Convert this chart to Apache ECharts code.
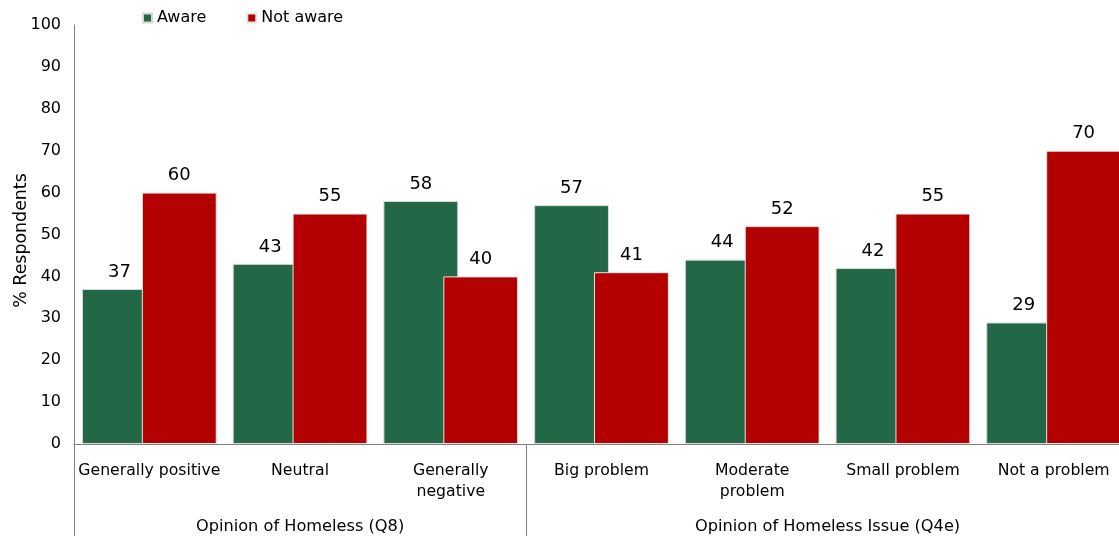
<!DOCTYPE html>
<html>
<head>
<meta charset="utf-8">
<script src="https://cdn.jsdelivr.net/npm/echarts@6/dist/echarts.min.js"></script>
<style>
  html, body { margin: 0; padding: 0; background: #fff; }
  #chart { width: 1119px; height: 536px; }
</style>
</head>
<body>
<div id="chart"></div>
<script>
// Awareness by opinion of homeless people and of the homeless issue
const categories = [
  'Generally positive', 'Neutral', 'Generally\nnegative',
  'Big problem', 'Moderate\nproblem', 'Small problem', 'Not a problem'
];
const aware    = [37, 43, 58, 57, 44, 42, 29];
const notAware = [60, 55, 40, 41, 52, 55, 70];
const seriesNames = ['Aware', 'Not aware'];
const yTicks = [0, 10, 20, 30, 40, 50, 60, 70, 80, 90, 100];

// Question groups spanning the categories: [title, number of categories]
const groups = [
  ['Opinion of Homeless (Q8)', 3],
  ['Opinion of Homeless Issue (Q4e)', 4]
];

// Group axis in half-category steps: boundaries get a tick, centres get the title
const halfSteps = categories.length * 2 + 1;
const groupAxisData = new Array(halfSteps).fill('');
const boundaryIdx = new Set([0]);
let start = 0;
groups.forEach(([title, span]) => {
  groupAxisData[start + span] = title;       // centre of group, in half steps
  start += span * 2;
  boundaryIdx.add(start);
});

const FONT = 'DejaVu Sans';
const GREEN = '#236846';
const RED = '#b30000';

const chart = echarts.init(document.getElementById('chart'));
chart.setOption({
  animation: false,
  textStyle: { fontFamily: FONT },
  legend: {
    data: seriesNames,
    left: 142, top: 10, padding: 0,
    itemWidth: 9, itemHeight: 9, itemGap: 40,
    icon: 'rect',
    textStyle: { fontSize: 16, color: '#000', fontFamily: FONT }
  },
  grid: {
    left: 74, right: -10, top: 25, bottom: 92,
    containLabel: false, outerBoundsMode: 'none'
  },
  xAxis: [
    {
      type: 'category',
      data: categories,
      axisLine: { show: true, lineStyle: { color: '#808080', width: 1 } },
      axisTick: { show: false },
      axisLabel: {
        interval: 0, margin: 16, color: '#000', fontSize: 15.7,
        lineHeight: 21, fontFamily: FONT
      }
    },
    {
      type: 'category',
      position: 'bottom',
      boundaryGap: false,
      data: groupAxisData,
      axisLine: { show: false },
      axisTick: {
        show: true, length: 92,
        interval: (i) => boundaryIdx.has(i),
        lineStyle: { color: '#808080', width: 1 }
      },
      axisLabel: {
        interval: 0, margin: 75, color: '#000', fontSize: 16.2, fontFamily: FONT
      }
    }
  ],
  yAxis: {
    type: 'value',
    min: yTicks[0], max: yTicks[yTicks.length - 1], interval: 10,
    name: '% Respondents',
    nameLocation: 'middle', nameGap: 44, nameRotate: 90, nameMoveOverlap: false,
    nameTextStyle: { fontSize: 17.4, color: '#000', fontFamily: FONT, padding: [0, 12, 0, 0] },
    axisLine: { show: true, lineStyle: { color: '#808080', width: 1 } },
    axisTick: { show: false },
    splitLine: { show: false },
    axisLabel: { margin: 13, fontSize: 16, color: '#000', fontFamily: FONT }
  },
  series: [
    {
      name: seriesNames[0], type: 'bar', data: aware,
      barCategoryGap: '10.6%', barGap: '-20%',
      itemStyle: { color: GREEN, borderColor: '#d9d9d9', borderWidth: 1 },
      label: { show: true, position: 'top', distance: 8, fontSize: 18, color: '#000', fontFamily: FONT }
    },
    {
      name: seriesNames[1], type: 'bar', data: notAware,
      barCategoryGap: '10.6%', barGap: '-20%',
      itemStyle: { color: RED, borderColor: '#e6e6e6', borderWidth: 1 },
      label: { show: true, position: 'top', distance: 8, fontSize: 18, color: '#000', fontFamily: FONT }
    }
  ]
});
</script>
</body>
</html>
